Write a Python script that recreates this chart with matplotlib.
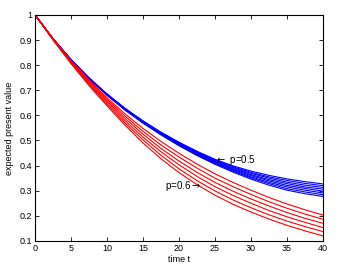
import matplotlib
matplotlib.use("Agg")
import matplotlib.pyplot as plt
import numpy as np

plt.rcParams['font.family'] = ['Liberation Sans', 'DejaVu Sans']
plt.rcParams['mathtext.fontset'] = 'dejavusans'

# time grid (read every 2.5 units)
t = [0, 2.5, 5, 7.5, 10, 12.5, 15, 17.5, 20, 22.5, 25, 27.5, 30, 32.5, 35, 37.5, 40]

# p=0.5 family (blue)
blue_curves = [
    [1.000, 0.905, 0.822, 0.749, 0.685, 0.628, 0.578, 0.533, 0.493, 0.457, 0.425, 0.399, 0.378, 0.361, 0.347, 0.336, 0.327],
    [1.000, 0.905, 0.822, 0.749, 0.684, 0.627, 0.577, 0.531, 0.491, 0.455, 0.422, 0.395, 0.373, 0.355, 0.341, 0.329, 0.320],
    [1.000, 0.905, 0.821, 0.748, 0.684, 0.626, 0.575, 0.530, 0.489, 0.452, 0.419, 0.392, 0.369, 0.350, 0.334, 0.322, 0.313],
    [1.000, 0.905, 0.821, 0.748, 0.683, 0.625, 0.574, 0.528, 0.487, 0.450, 0.416, 0.388, 0.364, 0.344, 0.328, 0.315, 0.306],
    [1.000, 0.904, 0.821, 0.747, 0.682, 0.624, 0.573, 0.527, 0.485, 0.447, 0.414, 0.385, 0.360, 0.339, 0.321, 0.309, 0.298],
    [1.000, 0.904, 0.821, 0.747, 0.681, 0.623, 0.572, 0.525, 0.483, 0.445, 0.411, 0.381, 0.355, 0.333, 0.315, 0.302, 0.291],
    [1.000, 0.904, 0.820, 0.746, 0.681, 0.622, 0.570, 0.524, 0.481, 0.442, 0.408, 0.378, 0.351, 0.328, 0.308, 0.295, 0.284],
    [1.000, 0.904, 0.820, 0.746, 0.680, 0.621, 0.569, 0.522, 0.479, 0.440, 0.405, 0.374, 0.346, 0.322, 0.302, 0.288, 0.277],
]

# p=0.6 family (red)
red_curves = [
    [1.000, 0.905, 0.818, 0.741, 0.670, 0.606, 0.548, 0.496, 0.449, 0.406, 0.367, 0.333, 0.302, 0.273, 0.247, 0.224, 0.203],
    [1.000, 0.904, 0.816, 0.736, 0.664, 0.597, 0.536, 0.482, 0.434, 0.390, 0.350, 0.316, 0.285, 0.256, 0.230, 0.207, 0.186],
    [1.000, 0.903, 0.813, 0.732, 0.657, 0.588, 0.525, 0.468, 0.418, 0.373, 0.333, 0.298, 0.267, 0.239, 0.213, 0.190, 0.170],
    [1.000, 0.902, 0.811, 0.727, 0.651, 0.579, 0.513, 0.455, 0.403, 0.357, 0.316, 0.281, 0.250, 0.221, 0.196, 0.174, 0.153],
    [1.000, 0.901, 0.808, 0.723, 0.644, 0.570, 0.502, 0.441, 0.387, 0.340, 0.299, 0.263, 0.232, 0.204, 0.179, 0.157, 0.137],
    [1.000, 0.900, 0.806, 0.718, 0.638, 0.561, 0.490, 0.427, 0.372, 0.324, 0.282, 0.246, 0.215, 0.187, 0.162, 0.140, 0.120],
]

xticks = [0, 5, 10, 15, 20, 25, 30, 35, 40]
yticks = [0.1, 0.2, 0.3, 0.4, 0.5, 0.6, 0.7, 0.8, 0.9, 1.0]
ytick_labels = ["0.1", "0.2", "0.3", "0.4", "0.5", "0.6", "0.7", "0.8", "0.9", "1"]

fig = plt.figure(figsize=(3.4, 2.71), dpi=100)
ax = fig.add_axes([0.103, 0.111, 0.847, 0.834])

for y in blue_curves:
    ax.plot(t, y, c=(0, 0, 1), lw=0.8)
for y in red_curves:
    ax.plot(t, y, c=(1, 0, 0), lw=0.8)

ax.text(25.0, 0.422, r"$\leftarrow$ p=0.5", fontsize=7, va="center", ha="left")
ax.text(18.0, 0.319, r"p=0.6$\rightarrow$", fontsize=7, va="center", ha="left")

ax.set_xlim(0, 40)
ax.set_ylim(0.1, 1)
ax.set_xticks(xticks)
ax.set_yticks(yticks)
ax.set_yticklabels(ytick_labels)
ax.tick_params(direction="in", top=True, right=True, length=3, width=0.6,
               labelsize=6.5, pad=2)
for sp in ax.spines.values():
    sp.set_linewidth(0.8)

ax.set_xlabel("time t", fontsize=6.5, labelpad=2)
ax.set_ylabel("expected present value", fontsize=6.5, labelpad=4)

fig.savefig("out.png", dpi=100)
